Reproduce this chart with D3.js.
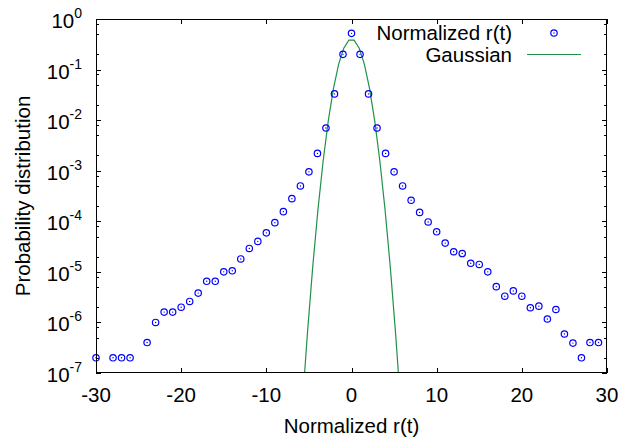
<!DOCTYPE html>
<html>
<head>
<meta charset="utf-8">
<script src="https://cdn.jsdelivr.net/npm/d3@7"></script>
<style>
	body { margin: 0; background: #fff; }
	text { font-family: "Liberation Sans", Arial, sans-serif; fill: #000; }
</style>
</head>
<body>
<svg id="chart" width="621" height="439"></svg>
<script>
// histogram of normalized r(t)
var rX = [-30, -28, -27, -26, -24, -23, -22, -21, -20, -19, -18, -17, -16, -15, -14, -13, -12, -11, -10,
	-9, -8, -7, -6, -5, -4, -3, -2, -1, 0, 1, 2, 3, 4, 5, 6, 7, 8, 9, 10,
	11, 12, 13, 14, 15, 16, 17, 18, 19, 20, 21, 22, 23, 24, 25, 26, 27, 28, 29]
var rP = [2e-7, 2e-7, 2e-7, 2e-7, 4e-7, 1e-6, 1.6e-6, 1.6e-6, 2e-6, 2.6e-6, 3.8e-6, 6.5e-6, 6.5e-6, 1e-5, 1.05e-5, 1.8e-5, 2.9e-5, 4e-5, 5.9e-5,
	9.4e-5, 1.55e-4, 2.8e-4, 5e-4, 9.5e-4, 2.2e-3, 7e-3, 3.3e-2, 0.2, 0.52, 0.2, 3.3e-2, 7e-3, 2.2e-3, 9.5e-4, 5e-4, 2.6e-4, 1.5e-4, 9.7e-5, 6.2e-5,
	3.7e-5, 2.5e-5, 2.3e-5, 1.48e-5, 1.4e-5, 1e-5, 5.1e-6, 3.3e-6, 4.2e-6, 3.3e-6, 1.95e-6, 2.1e-6, 1.17e-6, 1.8e-6, 5.9e-7, 3.9e-7, 2e-7, 4e-7, 4e-7]

// gaussian curve, as sampled by the plotting program
var gaussX = [-6.364, -5.758, -5.152, -4.545, -3.939, -3.333, -2.727, -2.121, -1.515, -0.909, -0.303,
	0.303, 0.909, 1.515, 2.121, 2.727, 3.333, 3.939, 4.545, 5.152, 5.758, 6.364]
var gaussY = [6.4e-10, 2.523e-8, 6.883e-7, 1.301e-5, 1.703e-4, 1.542e-3, 9.683e-3, 4.206e-2, 0.1266, 0.2639, 0.3810,
	0.3810, 0.2639, 0.1266, 4.206e-2, 9.683e-3, 1.542e-3, 1.703e-4, 1.301e-5, 6.883e-7, 2.523e-8, 6.4e-10]

var xTicks = [-30, -20, -10, 0, 10, 20, 30]
var yExps = [0, -1, -2, -3, -4, -5, -6, -7]
var minorMult = [2, 5, 8]

var margin = ({top: 19, right: 14, bottom: 66, left: 96})
var width = 621
var height = 439
var fs = 20.5

var x = d3.scaleLinear()
	.domain([-30, 30])
	.range([margin.left, width - margin.right])

var y = d3.scaleLog()
	.domain([1e-7, 1])
	.range([height - margin.bottom, margin.top])

var svg = d3.select("#chart")

svg.append("clipPath").attr("id", "clip")
	.append("rect")
	.attr("x", margin.left).attr("y", margin.top)
	.attr("width", x(30) - x(-30)).attr("height", y(1e-7) - y(1))

// ticks: major on all four sides, log minors left/right
var ticks = svg.append("g").attr("stroke", "#000").attr("stroke-width", 1)
xTicks.forEach(t => {
	var px = Math.round(x(t)) + 0.5
	ticks.append("line").attr("x1", px).attr("x2", px).attr("y1", y(1e-7)).attr("y2", y(1e-7) - 5)
	ticks.append("line").attr("x1", px).attr("x2", px).attr("y1", y(1)).attr("y2", y(1) + 5)
})
yExps.forEach(e => {
	var py = Math.round(y(Math.pow(10, e))) + 0.5
	ticks.append("line").attr("x1", x(-30)).attr("x2", x(-30) + 5).attr("y1", py).attr("y2", py)
	ticks.append("line").attr("x1", x(30)).attr("x2", x(30) - 5).attr("y1", py).attr("y2", py)
	if (e < 0) {
		minorMult.forEach(m => {
			var my = Math.round(y(m * Math.pow(10, e))) + 0.5
			ticks.append("line").attr("x1", x(-30)).attr("x2", x(-30) + 3).attr("y1", my).attr("y2", my)
			ticks.append("line").attr("x1", x(30)).attr("x2", x(30) - 3).attr("y1", my).attr("y2", my)
		})
	}
})

// tick labels
svg.append("g").selectAll("text")
	.data(xTicks)
	.join("text")
	.attr("x", d => x(d))
	.attr("y", 402)
	.attr("text-anchor", "middle")
	.attr("font-size", fs)
	.text(d => d)

var yl = svg.append("g").selectAll("text")
	.data(yExps)
	.join("text")
	.attr("x", 82)
	.attr("y", d => y(Math.pow(10, d)) + 9)
	.attr("text-anchor", "end")
	.attr("font-size", fs)
yl.append("tspan").text("10")
yl.append("tspan").attr("font-size", 14).attr("dy", -10).text(d => d)

// gaussian is clipped to the frame, points are not
var line = d3.line()
	.x((d, i) => x(gaussX[i]))
	.y((d, i) => y(gaussY[i]))

svg.append("path")
	.attr("clip-path", "url(#clip)")
	.attr("fill", "none")
	.attr("stroke", "#22904a")
	.attr("stroke-width", 1.2)
	.attr("d", line(gaussX))

var pts = svg.append("g")
rX.forEach((v, i) => {
	pts.append("circle")
		.attr("cx", x(v)).attr("cy", y(rP[i])).attr("r", 3.2)
		.attr("fill", "none").attr("stroke", "#0000ff").attr("stroke-width", 1.2)
	pts.append("circle")
		.attr("cx", x(v)).attr("cy", y(rP[i])).attr("r", 0.7)
		.attr("fill", "#0000ff")
})

// frame
svg.append("rect")
	.attr("x", x(-30) + 0.5).attr("y", y(1) + 0.5)
	.attr("width", x(30) - x(-30) - 1).attr("height", y(1e-7) - y(1) - 1)
	.attr("fill", "none").attr("stroke", "#000").attr("stroke-width", 1)

// legend
var legend = svg.append("g")
legend.append("text").attr("x", 512).attr("y", 40).attr("text-anchor", "end")
	.attr("font-size", fs).text("Normalized r(t)")
legend.append("circle").attr("cx", 554).attr("cy", 33).attr("r", 3.2)
	.attr("fill", "none").attr("stroke", "#0000ff").attr("stroke-width", 1.2)
legend.append("circle").attr("cx", 554).attr("cy", 33).attr("r", 0.7).attr("fill", "#0000ff")
legend.append("text").attr("x", 512).attr("y", 62).attr("text-anchor", "end")
	.attr("font-size", fs).text("Gaussian")
legend.append("line").attr("x1", 527).attr("x2", 581).attr("y1", 54.5).attr("y2", 54.5)
	.attr("stroke", "#22904a").attr("stroke-width", 1.2)

// axis titles
svg.append("text")
	.attr("x", (x(-30) + x(30)) / 2).attr("y", 433)
	.attr("text-anchor", "middle").attr("font-size", fs)
	.text("Normalized r(t)")

svg.append("text")
	.attr("transform", `translate(30,${(y(1) + y(1e-7)) / 2}) rotate(-90)`)
	.attr("text-anchor", "middle").attr("font-size", fs)
	.text("Probability distribution")
</script>
</body>
</html>
